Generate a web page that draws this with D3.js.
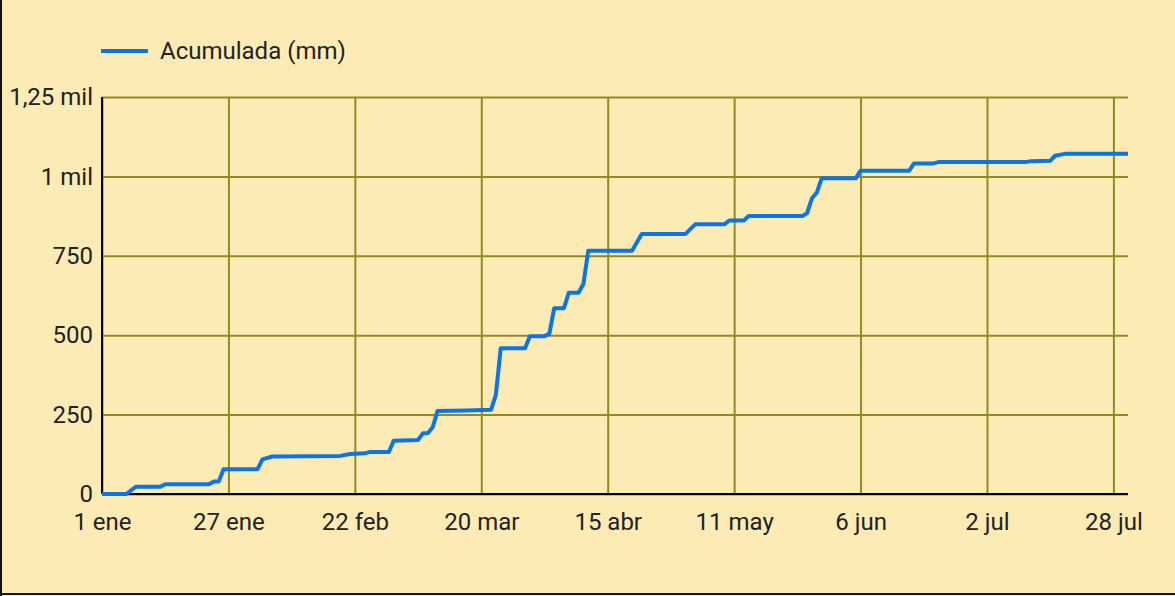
<!DOCTYPE html>
<html>
<head>
<meta charset="utf-8">
<script src="https://cdn.jsdelivr.net/npm/d3@7"></script>
<style>
  body { margin: 0; background: #fdebb5; }
  svg { display: block; font-family: Roboto, sans-serif; }
</style>
</head>
<body>
<div id="wrapper"></div>
<script>
// cumulative rainfall, points where the value changes (2023)
const dates = [
  "2023-01-01","2023-01-06","2023-01-08","2023-01-13","2023-01-14","2023-01-23","2023-01-24","2023-01-25",
  "2023-01-26","2023-02-02","2023-02-03","2023-02-05","2023-02-19","2023-02-21","2023-02-24","2023-02-25",
  "2023-03-01","2023-03-02","2023-03-07","2023-03-08","2023-03-09","2023-03-10","2023-03-11","2023-03-17",
  "2023-03-22","2023-03-23","2023-03-24","2023-03-29","2023-03-30","2023-04-02","2023-04-03","2023-04-04",
  "2023-04-06","2023-04-07","2023-04-09","2023-04-10","2023-04-11","2023-04-20","2023-04-22","2023-05-01",
  "2023-05-03","2023-05-09","2023-05-10","2023-05-13","2023-05-14","2023-05-25","2023-05-26","2023-05-27",
  "2023-05-28","2023-05-29","2023-06-05","2023-06-06","2023-06-16","2023-06-17","2023-06-21","2023-06-22",
  "2023-07-10","2023-07-11","2023-07-15","2023-07-16","2023-07-18","2023-07-31"
];
const acumulada = [
  0, 0, 23, 23, 31, 31, 39, 39,
  78, 78, 109, 118, 120, 126, 128, 132,
  132, 168, 170, 191, 191, 210, 261, 263,
  265, 312, 459, 459, 497, 497, 504, 585,
  585, 634, 634, 661, 766, 766, 819, 819,
  849, 849, 861, 861, 875, 875, 884, 931,
  949, 994, 994, 1018, 1018, 1041, 1041, 1045,
  1045, 1048, 1049, 1065, 1071, 1071
];

const xTickDates = ["2023-01-01","2023-01-27","2023-02-22","2023-03-20","2023-04-15","2023-05-11","2023-06-06","2023-07-02","2023-07-28"];
const xTickLabels = ["1 ene","27 ene","22 feb","20 mar","15 abr","11 may","6 jun","2 jul","28 jul"];
const yTicks = [0, 250, 500, 750, 1000, 1250];
const yTickLabels = ["0", "250", "500", "750", "1 mil", "1,25 mil"];
const seriesName = "Acumulada (mm)";

const width = 1175, height = 596;
const plotLeft = 102, plotRight = 1128, plotTop = 97, plotBottom = 494;
const gridColor = "#928a1f";
const lineColor = "#0a74e8";
const fontSize = "24px";
const parse = d3.timeParse("%Y-%m-%d");

const data = dates.map((d, i) => ({ date: parse(d), value: acumulada[i] }));

const svg = d3.select("#wrapper").append("svg")
  .attr("width", width)
  .attr("height", height);

svg.append("rect")
  .attr("width", width).attr("height", height)
  .attr("fill", "#fdebb5");

// frame (left and bottom edges only)
svg.append("line").attr("x1", 1).attr("x2", 1).attr("y1", 0).attr("y2", height)
  .attr("stroke", "#111").attr("stroke-width", 2);
svg.append("line").attr("x1", 0).attr("x2", width).attr("y1", height - 2).attr("y2", height - 2)
  .attr("stroke", "#111").attr("stroke-width", 2);

const x = d3.scaleTime()
  .domain([parse("2023-01-01"), parse("2023-07-31")])
  .range([plotLeft, plotRight]);

const y = d3.scaleLinear()
  .domain([0, 1250])
  .range([plotBottom, plotTop]);

// y grid + labels
const yAxis = svg.append("g")
  .attr("transform", `translate(${plotLeft},0)`)
  .call(d3.axisLeft(y)
    .tickValues(yTicks)
    .tickSize(-(plotRight - plotLeft))
    .tickPadding(9)
    .tickFormat((d, i) => yTickLabels[i]));
yAxis.select(".domain").remove();
yAxis.selectAll(".tick line").attr("stroke", gridColor).attr("stroke-width", 2);
yAxis.selectAll(".tick text")
  .attr("fill", "#222")
  .style("font-size", fontSize)
  .style("font-family", "Roboto, sans-serif");

// x grid + labels
const xAxis = svg.append("g")
  .attr("transform", `translate(0,${plotBottom})`)
  .call(d3.axisBottom(x)
    .tickValues(xTickDates.map(parse))
    .tickSize(-(plotBottom - plotTop))
    .tickPadding(19)
    .tickFormat((d, i) => xTickLabels[i]));
xAxis.select(".domain").remove();
xAxis.selectAll(".tick line").attr("stroke", gridColor).attr("stroke-width", 2);
xAxis.selectAll(".tick text")
  .attr("fill", "#222")
  .style("font-size", fontSize)
  .style("font-family", "Roboto, sans-serif");

// axis lines
svg.append("line")
  .attr("x1", plotLeft).attr("x2", plotLeft).attr("y1", plotTop).attr("y2", plotBottom)
  .attr("stroke", "#000").attr("stroke-width", 2);
svg.append("line")
  .attr("x1", plotLeft).attr("x2", plotRight).attr("y1", plotBottom).attr("y2", plotBottom)
  .attr("stroke", "#000").attr("stroke-width", 2);

// series
const line = d3.line()
  .x(d => x(d.date))
  .y(d => y(d.value));

svg.append("path")
  .datum(data)
  .attr("fill", "none")
  .attr("stroke", lineColor)
  .attr("stroke-width", 4)
  .attr("stroke-linejoin", "round")
  .attr("d", line);

// legend
const legend = svg.append("g").attr("transform", "translate(101,51)");
legend.append("line")
  .attr("x1", 0).attr("x2", 47)
  .attr("stroke", lineColor).attr("stroke-width", 4);
legend.append("text")
  .attr("x", 59).attr("y", 0).attr("dy", "0.35em")
  .attr("fill", "#222")
  .style("font-size", fontSize)
  .text(seriesName);
</script>
</body>
</html>
